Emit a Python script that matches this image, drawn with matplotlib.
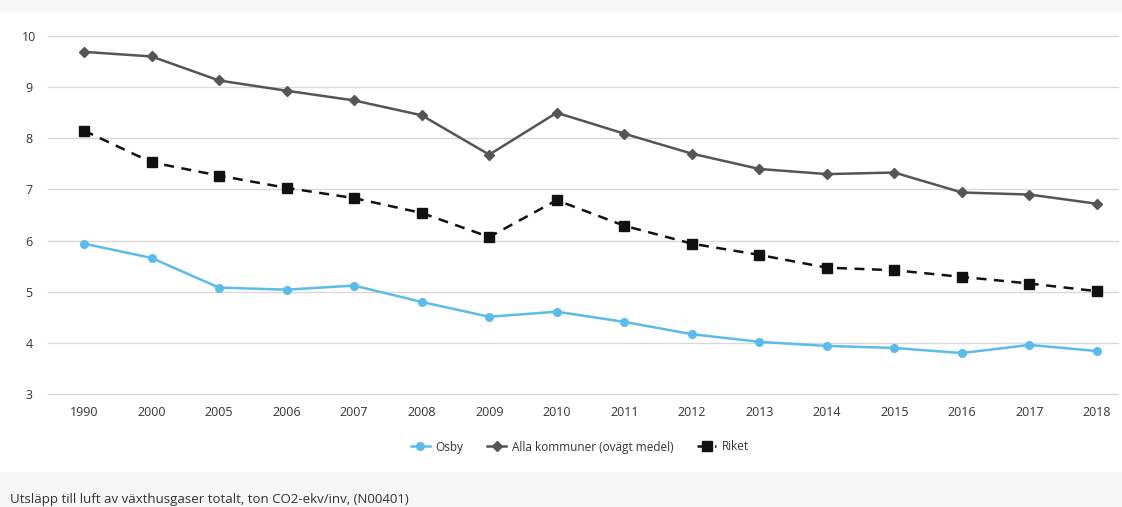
import numpy as np
import matplotlib
matplotlib.use("Agg")
from matplotlib import pyplot as plt
from matplotlib.patches import Rectangle

# Data
years = ["1990", "2000", "2005", "2006", "2007", "2008", "2009", "2010",
         "2011", "2012", "2013", "2014", "2015", "2016", "2017", "2018"]
osby = [5.94, 5.66, 5.08, 5.04, 5.12, 4.80, 4.51, 4.61, 4.41, 4.17,
        4.02, 3.94, 3.90, 3.80, 3.96, 3.84]
alla = [9.69, 9.60, 9.13, 8.93, 8.74, 8.45, 7.68, 8.50, 8.09, 7.70,
        7.40, 7.30, 7.33, 6.94, 6.90, 6.72]
riket = [8.15, 7.53, 7.27, 7.03, 6.83, 6.54, 6.07, 6.79, 6.29, 5.94,
         5.72, 5.47, 5.42, 5.29, 5.16, 5.01]
yticks = [3, 4, 5, 6, 7, 8, 9, 10]

W, H = 1122, 507
FONT = ["Open Sans", "DejaVu Sans"]
fig = plt.figure(figsize=(W / 100, H / 100), dpi=100)
fig.patch.set_facecolor("#f6f6f6")
# white panel behind the chart
fig.patches.append(Rectangle((0, (H - 472) / H), 1, 460 / H, transform=fig.transFigure,
                             facecolor="white", edgecolor="none", zorder=-5))

ax = fig.add_axes([48 / W, (H - 394) / H, (1118 - 48) / W, (394 - 36) / H])
ax.set_facecolor("none")
ax.set_zorder(2)
x = np.arange(len(years))

ax.plot(x, osby, color="#5bbce9", lw=1.8, marker="o", ms=5.5, label="Osby", zorder=3)
ax.plot(x, alla, color="#555555", lw=1.8, marker="D", ms=5, label="Alla kommuner (ovägt medel)", zorder=3)
ax.plot(x, riket, color="#111111", lw=1.8, ls=(0, (4, 3)), marker="s", ms=7,
        label="Riket", zorder=3)

scale = (1097 - 84) / 15
ax.set_xlim(-(84 - 48) / scale, 15 + (1118 - 1097) / scale)
ax.set_ylim(3, 10)
ax.set_xticks(x)
ax.set_xticklabels(years)
ax.set_yticks(yticks)
ax.set_yticklabels([str(v) for v in yticks])

for s in ax.spines.values():
    s.set_visible(False)
ax.grid(axis="y", color="#d8d8d8", lw=1)
for gl in ax.get_ygridlines():
    gl.set_clip_on(False)
ax.set_axisbelow(True)
ax.tick_params(axis="both", length=0, labelsize=9, labelcolor="#333333")
ax.tick_params(axis="x", pad=9)
ax.tick_params(axis="y", pad=13.5)
for lab in ax.get_yticklabels():
    lab.set_horizontalalignment("center")
for lab in ax.get_xticklabels() + ax.get_yticklabels():
    lab.set_fontfamily(FONT)

leg = fig.legend(loc="center", bbox_to_anchor=(580 / W, (H - 447) / H), ncol=3,
                 frameon=False, handlelength=1.6, columnspacing=2.0,
                 handletextpad=0.5, prop={"family": FONT, "size": 8.5})
for t in leg.get_texts():
    t.set_color("#333333")

fig.text(10 / W, 1 / H, "Utsläpp till luft av växthusgaser totalt, ton CO2-ekv/inv, (N00401)",
         ha="left", va="bottom", fontsize=9.5, color="#333333", family=FONT)

fig.savefig("out.png", dpi=100, facecolor=fig.get_facecolor())
